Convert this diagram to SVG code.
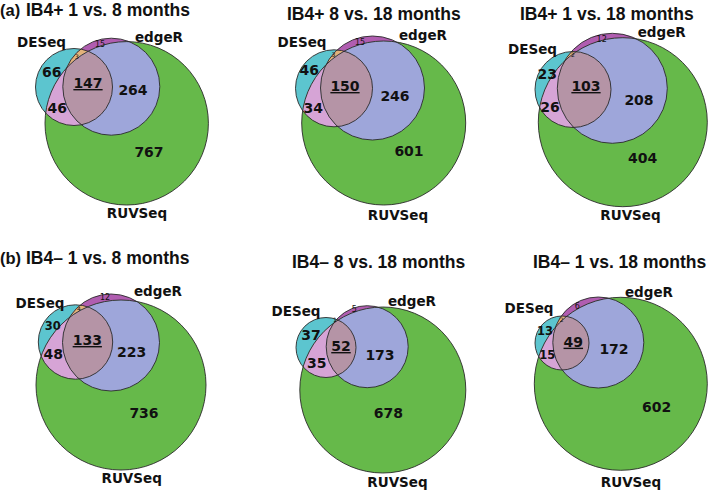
<svg xmlns="http://www.w3.org/2000/svg" width="709" height="490" viewBox="0 0 709 490">
<style>
.d{fill:#5cc5cf}.e{fill:#b05db0}.r{fill:#66b94a}.de{fill:#e3b27a}.dr{fill:#d6a4d6}.er{fill:#9ea6da}.der{fill:#b594a6}
.o{fill:none;stroke:#2a2a2a;stroke-width:0.9}
.t{font-family:"Liberation Sans",Arial,sans-serif;font-weight:bold;font-size:17.5px;fill:#111}
.p{font-size:16.5px}
.lab{font-family:"DejaVu Sans",sans-serif;font-weight:bold;font-size:13.5px;text-anchor:middle;fill:#111}
.n{font-family:"DejaVu Sans",sans-serif;font-weight:bold;font-size:14px;text-anchor:middle;fill:#111}
.m{font-size:11.5px}.s{font-size:8px;font-weight:normal}.x{font-size:6px;font-weight:normal}
.u{text-decoration:underline}
</style>
<defs>
<clipPath id="D1"><circle cx="74" cy="87" r="38.5"/></clipPath><clipPath id="E1"><circle cx="111.3" cy="86.7" r="48.5"/></clipPath><clipPath id="R1"><circle cx="126.7" cy="123.3" r="81.7"/></clipPath>
<clipPath id="D2"><circle cx="334" cy="88.3" r="38.5"/></clipPath><clipPath id="E2"><circle cx="372.5" cy="88" r="52"/></clipPath><clipPath id="R2"><circle cx="383.7" cy="123" r="82"/></clipPath>
<clipPath id="D3"><circle cx="573" cy="89.5" r="38"/></clipPath><clipPath id="E3"><circle cx="612.3" cy="88.3" r="55"/></clipPath><clipPath id="R3"><circle cx="622.8" cy="122.2" r="84.5"/></clipPath>
<clipPath id="D4"><circle cx="75.5" cy="342" r="37.2"/></clipPath><clipPath id="E4"><circle cx="111" cy="342.5" r="48.5"/></clipPath><clipPath id="R4"><circle cx="121" cy="385" r="85"/></clipPath>
<clipPath id="D5"><circle cx="326" cy="347.5" r="30"/></clipPath><clipPath id="E5"><circle cx="367.2" cy="346.7" r="41"/></clipPath><clipPath id="R5"><circle cx="382.8" cy="390" r="83"/></clipPath>
<clipPath id="D6"><circle cx="562" cy="343" r="27"/></clipPath><clipPath id="E6"><circle cx="598.3" cy="342.5" r="45.5"/></clipPath><clipPath id="R6"><circle cx="620.8" cy="383.8" r="86.5"/></clipPath>
</defs>
<rect width="709" height="490" fill="#fff"/>

<g id="panel-a1">
<text class="t p" x="0" y="16">(a)</text><text class="t" x="26" y="16">IB4+ 1 vs. 8 months</text>
<g id="a1-regions">
<circle class="d" cx="74" cy="87" r="38.5"/><circle class="e" cx="111.3" cy="86.7" r="48.5"/><circle class="r" cx="126.7" cy="123.3" r="81.7"/>
<circle class="de" cx="74" cy="87" r="38.5" clip-path="url(#E1)"/>
<g clip-path="url(#R1)"><circle class="dr" cx="74" cy="87" r="38.5"/><circle class="er" cx="111.3" cy="86.7" r="48.5"/><g clip-path="url(#E1)"><circle class="der" cx="74" cy="87" r="38.5"/></g></g>
</g>
<g id="a1-DESeq"><circle class="o" cx="74" cy="87" r="38.5"/><text class="lab" x="41.5" y="46.5">DESeq</text></g>
<g id="a1-edgeR"><circle class="o" cx="111.3" cy="86.7" r="48.5"/><text class="lab" x="159" y="41.5">edgeR</text></g>
<g id="a1-RUVSeq"><circle class="o" cx="126.7" cy="123.3" r="81.7"/><text class="lab" x="137" y="218">RUVSeq</text></g>
<text class="n" x="51.7" y="76.8">66</text><text class="n u" x="88" y="88">147</text><text class="n" x="133" y="95">264</text><text class="n" x="57.3" y="113.4">46</text><text class="n" x="149" y="156.8">767</text><text class="n s" x="100" y="47">15</text><text class="n x" x="77" y="59">3</text>
</g>

<g id="panel-a2">
<text class="t" x="287" y="19.5">IB4+ 8 vs. 18 months</text>
<g id="a2-regions">
<circle class="d" cx="334" cy="88.3" r="38.5"/><circle class="e" cx="372.5" cy="88" r="52"/><circle class="r" cx="383.7" cy="123" r="82"/>
<circle class="de" cx="334" cy="88.3" r="38.5" clip-path="url(#E2)"/>
<g clip-path="url(#R2)"><circle class="dr" cx="334" cy="88.3" r="38.5"/><circle class="er" cx="372.5" cy="88" r="52"/><g clip-path="url(#E2)"><circle class="der" cx="334" cy="88.3" r="38.5"/></g></g>
</g>
<g id="a2-DESeq"><circle class="o" cx="334" cy="88.3" r="38.5"/><text class="lab" x="302" y="46.5">DESeq</text></g>
<g id="a2-edgeR"><circle class="o" cx="372.5" cy="88" r="52"/><text class="lab" x="423" y="40">edgeR</text></g>
<g id="a2-RUVSeq"><circle class="o" cx="383.7" cy="123" r="82"/><text class="lab" x="398" y="220">RUVSeq</text></g>
<text class="n" x="309.3" y="75">46</text><text class="n u" x="345" y="91">150</text><text class="n" x="395" y="101">246</text><text class="n" x="313.3" y="113.4">34</text><text class="n" x="409" y="155.8">601</text><text class="n s" x="360" y="44.5">15</text><text class="n x" x="333.3" y="57">3</text>
</g>

<g id="panel-a3">
<text class="t" x="520" y="19.5">IB4+ 1 vs. 18 months</text>
<g id="a3-regions">
<circle class="d" cx="573" cy="89.5" r="38"/><circle class="e" cx="612.3" cy="88.3" r="55"/><circle class="r" cx="622.8" cy="122.2" r="84.5"/>
<circle class="de" cx="573" cy="89.5" r="38" clip-path="url(#E3)"/>
<g clip-path="url(#R3)"><circle class="dr" cx="573" cy="89.5" r="38"/><circle class="er" cx="612.3" cy="88.3" r="55"/><g clip-path="url(#E3)"><circle class="der" cx="573" cy="89.5" r="38"/></g></g>
</g>
<g id="a3-DESeq"><circle class="o" cx="573" cy="89.5" r="38"/><text class="lab" x="532.5" y="54">DESeq</text></g>
<g id="a3-edgeR"><circle class="o" cx="612.3" cy="88.3" r="55"/><text class="lab" x="661.7" y="36.5">edgeR</text></g>
<g id="a3-RUVSeq"><circle class="o" cx="622.8" cy="122.2" r="84.5"/><text class="lab" x="630.5" y="220">RUVSeq</text></g>
<text class="n" x="547.3" y="79">23</text><text class="n u" x="586" y="91">103</text><text class="n" x="639" y="105">208</text><text class="n" x="550" y="112.3">26</text><text class="n" x="642.7" y="163.4">404</text><text class="n s" x="601.7" y="42">12</text><text class="n x" x="573" y="57">2</text>
</g>

<g id="panel-b1">
<text class="t p" x="0" y="264">(b)</text><text class="t" x="26" y="264">IB4– 1 vs. 8 months</text>
<g id="b1-regions">
<circle class="d" cx="75.5" cy="342" r="37.2"/><circle class="e" cx="111" cy="342.5" r="48.5"/><circle class="r" cx="121" cy="385" r="85"/>
<circle class="de" cx="75.5" cy="342" r="37.2" clip-path="url(#E4)"/>
<g clip-path="url(#R4)"><circle class="dr" cx="75.5" cy="342" r="37.2"/><circle class="er" cx="111" cy="342.5" r="48.5"/><g clip-path="url(#E4)"><circle class="der" cx="75.5" cy="342" r="37.2"/></g></g>
</g>
<g id="b1-DESeq"><circle class="o" cx="75.5" cy="342" r="37.2"/><text class="lab" x="40" y="308">DESeq</text></g>
<g id="b1-edgeR"><circle class="o" cx="111" cy="342.5" r="48.5"/><text class="lab" x="158" y="295.5">edgeR</text></g>
<g id="b1-RUVSeq"><circle class="o" cx="121" cy="385" r="85"/><text class="lab" x="131.7" y="483">RUVSeq</text></g>
<text class="n m" x="52.7" y="330">30</text><text class="n u" x="87.3" y="345">133</text><text class="n" x="131.7" y="356.8">223</text><text class="n" x="53.3" y="359">48</text><text class="n" x="144" y="418.4">736</text><text class="n s" x="105" y="300">12</text><text class="n x" x="79" y="310.5">4</text>
</g>

<g id="panel-b2">
<text class="t" x="292" y="268">IB4– 8 vs. 18 months</text>
<g id="b2-regions">
<circle class="d" cx="326" cy="347.5" r="30"/><circle class="e" cx="367.2" cy="346.7" r="41"/><circle class="r" cx="382.8" cy="390" r="83"/>
<circle class="de" cx="326" cy="347.5" r="30" clip-path="url(#E5)"/>
<g clip-path="url(#R5)"><circle class="dr" cx="326" cy="347.5" r="30"/><circle class="er" cx="367.2" cy="346.7" r="41"/><g clip-path="url(#E5)"><circle class="der" cx="326" cy="347.5" r="30"/></g></g>
</g>
<g id="b2-DESeq"><circle class="o" cx="326" cy="347.5" r="30"/><text class="lab" x="296" y="315.5">DESeq</text></g>
<g id="b2-edgeR"><circle class="o" cx="367.2" cy="346.7" r="41"/><text class="lab" x="412" y="305.5">edgeR</text></g>
<g id="b2-RUVSeq"><circle class="o" cx="382.8" cy="390" r="83"/><text class="lab" x="397.5" y="486.5">RUVSeq</text></g>
<text class="n" x="311" y="340">37</text><text class="n u" x="341" y="351">52</text><text class="n" x="380" y="360">173</text><text class="n" x="316.7" y="368.3">35</text><text class="n" x="388.3" y="417.8">678</text><text class="n s" x="354.3" y="311.5">5</text><text class="n x" x="335" y="322">1</text>
</g>

<g id="panel-b3">
<text class="t" x="533" y="268">IB4– 1 vs. 18 months</text>
<g id="b3-regions">
<circle class="d" cx="562" cy="343" r="27"/><circle class="e" cx="598.3" cy="342.5" r="45.5"/><circle class="r" cx="620.8" cy="383.8" r="86.5"/>
<circle class="de" cx="562" cy="343" r="27" clip-path="url(#E6)"/>
<g clip-path="url(#R6)"><circle class="dr" cx="562" cy="343" r="27"/><circle class="er" cx="598.3" cy="342.5" r="45.5"/><g clip-path="url(#E6)"><circle class="der" cx="562" cy="343" r="27"/></g></g>
</g>
<g id="b3-DESeq"><circle class="o" cx="562" cy="343" r="27"/><text class="lab" x="529" y="313">DESeq</text></g>
<g id="b3-edgeR"><circle class="o" cx="598.3" cy="342.5" r="45.5"/><text class="lab" x="649" y="296.5">edgeR</text></g>
<g id="b3-RUVSeq"><circle class="o" cx="620.8" cy="383.8" r="86.5"/><text class="lab" x="631" y="487">RUVSeq</text></g>
<text class="n m" x="545" y="334.7">13</text><text class="n u" x="573.3" y="346.7">49</text><text class="n" x="614" y="354.4">172</text><text class="n m" x="547.3" y="359">15</text><text class="n" x="656.7" y="411.8">602</text><text class="n s" x="577.3" y="308.5">6</text><text class="n x" x="561.7" y="321.5">2</text>
</g>
</svg>
